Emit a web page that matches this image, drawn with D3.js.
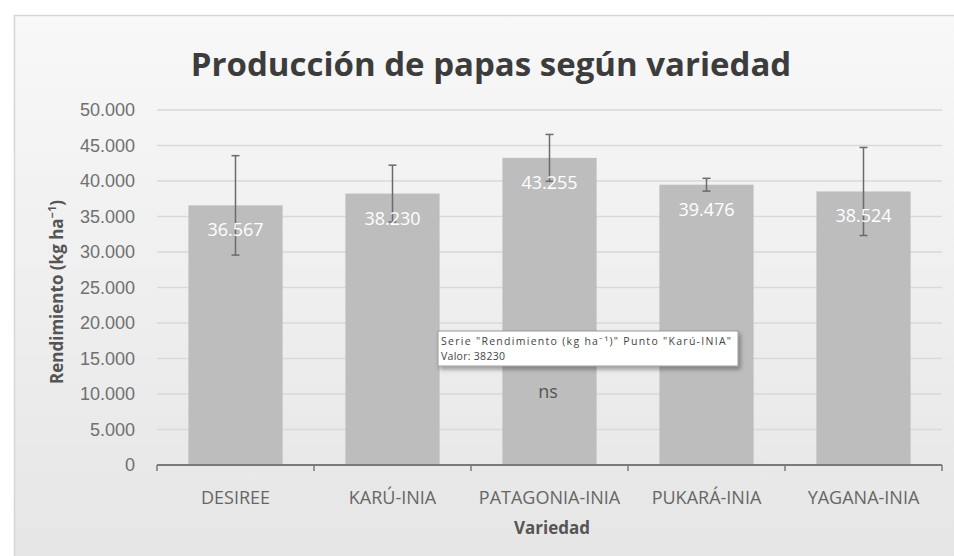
<!DOCTYPE html>
<html>
<head>
<meta charset="utf-8">
<script src="https://cdn.jsdelivr.net/npm/d3@7"></script>
<style>
    body { margin: 0; background: #fff; overflow: hidden; }
    svg { display: block; font-family: "Open Sans", sans-serif; }
    .tick text { fill: #707070; }
</style>
</head>
<body>
<div id="chart"></div>
<script>
// --- data ---
const varieties = ['DESIREE', 'KARÚ-INIA', 'PATAGONIA-INIA', 'PUKARÁ-INIA', 'YAGANA-INIA'];
const yieldValues = [36567, 38230, 43255, 39476, 38524];
const errorValues = [7000, 4000, 3300, 900, 6200];
const yTicks = [0, 5000, 10000, 15000, 20000, 25000, 30000, 35000, 40000, 45000, 50000];

const width = 954, height = 556;
const plot = { left: 157, right: 942, top: 110, bottom: 465 };

const locale = d3.formatLocale({ decimal: ',', thousands: '.', grouping: [3], currency: ['', ''] });
const fmt = locale.format(',d');

const svg = d3.select('#chart').append('svg')
    .attr('width', width)
    .attr('height', height);

const defs = svg.append('defs');
const grad = defs.append('linearGradient')
    .attr('id', 'bg').attr('x1', 0).attr('y1', 0).attr('x2', 0).attr('y2', 1);
grad.append('stop').attr('offset', '0%').attr('stop-color', '#f8f8f8');
grad.append('stop').attr('offset', '100%').attr('stop-color', '#e5e5e5');

const shadow = defs.append('filter').attr('id', 'shadow')
    .attr('x', '-10%').attr('y', '-30%').attr('width', '130%').attr('height', '180%');
shadow.append('feDropShadow').attr('dx', 2).attr('dy', 3).attr('stdDeviation', 2)
    .attr('flood-color', '#000').attr('flood-opacity', 0.35);

// chart area background
svg.append('rect')
    .attr('x', 14.5).attr('y', 15.5)
    .attr('width', width + 20).attr('height', height)
    .attr('fill', 'url(#bg)')
    .attr('stroke', '#d6d6d6').attr('stroke-width', 1.5);

const x = d3.scaleBand()
    .domain(varieties)
    .range([plot.left, plot.right])
    .paddingInner(0.4)
    .paddingOuter(0.2);

const y = d3.scaleLinear()
    .domain([0, 50000])
    .range([plot.bottom, plot.top]);

// gridlines
svg.append('g')
    .selectAll('line')
    .data(yTicks.filter(d => d > 0))
    .join('line')
    .attr('x1', plot.left).attr('x2', plot.right)
    .attr('y1', d => y(d)).attr('y2', d => y(d))
    .attr('stroke', '#d9d9d9').attr('stroke-width', 1.5);

// y axis labels
const yAxis = svg.append('g')
    .attr('transform', `translate(${plot.left},0)`)
    .call(d3.axisLeft(y).tickValues(yTicks).tickFormat(fmt).tickSize(0).tickPadding(22));
yAxis.select('.domain').remove();
yAxis.selectAll('text').style('font-size', '18px');

// bars
svg.append('g')
    .selectAll('rect')
    .data(varieties)
    .join('rect')
    .attr('x', d => x(d))
    .attr('y', (d, i) => y(yieldValues[i]))
    .attr('width', x.bandwidth())
    .attr('height', (d, i) => y(0) - y(yieldValues[i]))
    .attr('fill', '#bdbdbd');

// error bars
const err = svg.append('g')
    .attr('stroke', '#6b6b6b').attr('stroke-width', 1.5);
varieties.forEach((v, i) => {
    const cx = x(v) + x.bandwidth() / 2;
    const hi = y(yieldValues[i] + errorValues[i]);
    const lo = y(yieldValues[i] - errorValues[i]);
    err.append('line').attr('x1', cx).attr('x2', cx).attr('y1', hi).attr('y2', lo);
    err.append('line').attr('x1', cx - 4).attr('x2', cx + 4).attr('y1', hi).attr('y2', hi);
    err.append('line').attr('x1', cx - 4).attr('x2', cx + 4).attr('y1', lo).attr('y2', lo);
});

// data labels
svg.append('g')
    .selectAll('text')
    .data(varieties)
    .join('text')
    .attr('x', d => x(d) + x.bandwidth() / 2)
    .attr('y', (d, i) => y(yieldValues[i]) + 31)
    .attr('text-anchor', 'middle')
    .attr('fill', '#fff')
    .style('font-size', '18px')
    .text((d, i) => fmt(yieldValues[i]));

// x axis
const xAxis = svg.append('g')
    .attr('transform', `translate(0,${plot.bottom})`);
xAxis.append('line')
    .attr('x1', plot.left).attr('x2', plot.right)
    .attr('stroke', '#7a7a7a').attr('stroke-width', 2);
xAxis.selectAll('.tk')
    .data(d3.range(varieties.length + 1))
    .join('line')
    .attr('class', 'tk')
    .attr('x1', i => plot.left + i * x.step()).attr('x2', i => plot.left + i * x.step())
    .attr('y1', 0).attr('y2', 6)
    .attr('stroke', '#7a7a7a').attr('stroke-width', 1.5);
xAxis.selectAll('.lbl')
    .data(varieties)
    .join('text')
    .attr('class', 'lbl')
    .attr('x', d => x(d) + x.bandwidth() / 2)
    .attr('y', 39)
    .attr('text-anchor', 'middle')
    .attr('fill', '#666')
    .style('font-size', '18px')
    .text(d => d);

// title and axis titles
svg.append('text')
    .attr('x', 491).attr('y', 76)
    .attr('text-anchor', 'middle')
    .attr('fill', '#3c3c3c')
    .style('font-size', '33px').style('font-weight', 'bold')
    .text('Producción de papas según variedad');

svg.append('text')
    .attr('x', 552).attr('y', 534)
    .attr('text-anchor', 'middle')
    .attr('fill', '#555')
    .style('font-size', '17px').style('font-weight', 'bold')
    .text('Variedad');

svg.append('text')
    .attr('transform', 'translate(63,292) rotate(-90)')
    .attr('text-anchor', 'middle')
    .attr('fill', '#555')
    .style('font-size', '17px').style('font-weight', 'bold')
    .html('Rendimiento (kg ha<tspan dy="-7" style="font-size:11px">−1</tspan><tspan dy="7">)</tspan>');

// significance note
svg.append('text')
    .attr('x', 548).attr('y', 398)
    .attr('text-anchor', 'middle')
    .attr('fill', '#555')
    .style('font-size', '18px')
    .text('ns');

// hover tooltip frozen in the picture
const tip = svg.append('g').attr('transform', 'translate(438,331)');
tip.append('rect')
    .attr('width', 300).attr('height', 35)
    .attr('fill', '#fff').attr('stroke', '#9a9a9a')
    .attr('filter', 'url(#shadow)');
tip.append('text')
    .attr('x', 3).attr('y', 14)
    .attr('fill', '#444')
    .style('font-size', '10.5px')
    .attr('textLength', 290).attr('lengthAdjust', 'spacing')
    .text('Serie "Rendimiento (kg ha⁻¹)" Punto "Karú-INIA"');
tip.append('text')
    .attr('x', 3).attr('y', 29)
    .attr('fill', '#444')
    .style('font-size', '10.5px')
    .attr('textLength', 64).attr('lengthAdjust', 'spacing')
    .text('Valor: ' + yieldValues[1]);
</script>
</body>
</html>
